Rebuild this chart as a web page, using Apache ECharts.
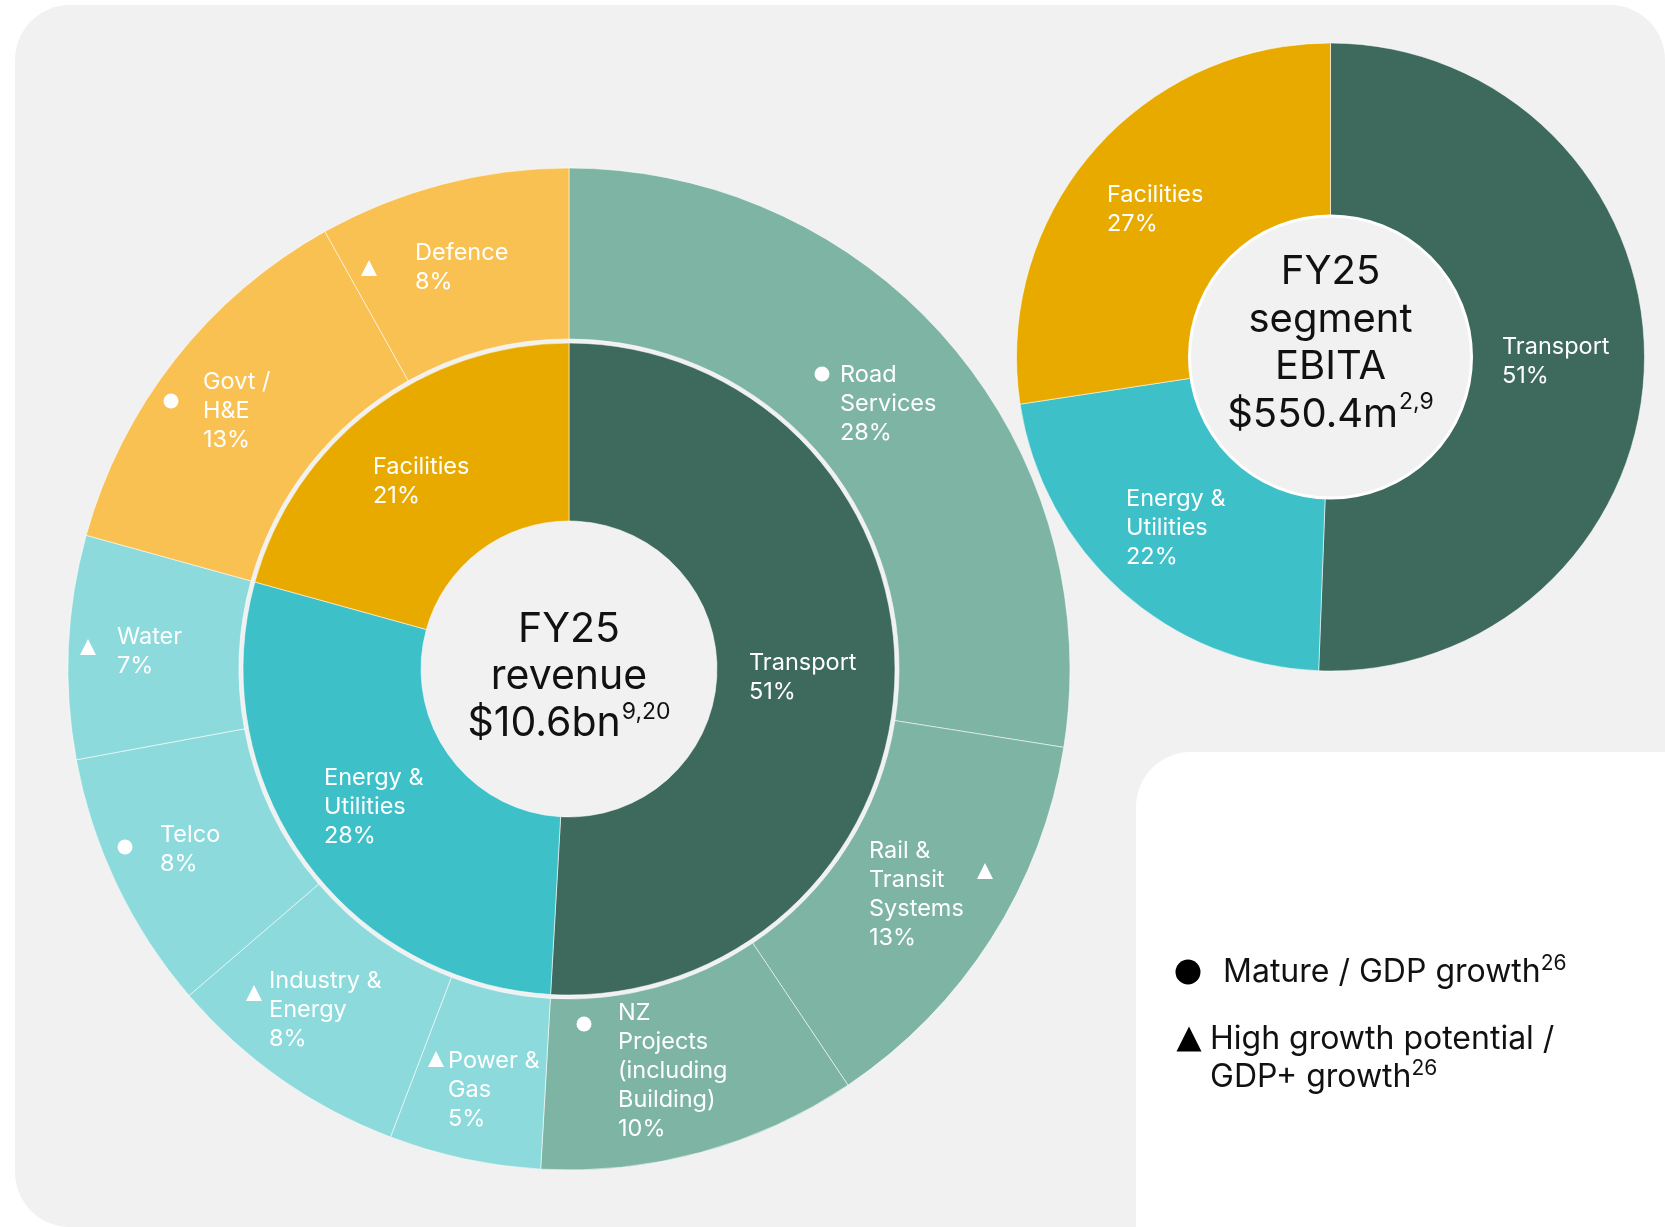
<!DOCTYPE html>
<html>
<head>
<meta charset="utf-8">
<script src="https://cdn.jsdelivr.net/npm/echarts@6/dist/echarts.min.js"></script>
<style>
  html, body { margin: 0; padding: 0; background: #ffffff; }
  #chart { width: 1665px; height: 1227px; }
</style>
</head>
<body>
<div id="chart"></div>
<script>
// ---------- DATA ----------
// Revenue segments (inner ring) - value is the sum of its sub-segments
const segments = ['Transport', 'Energy & Utilities', 'Facilities'];
const segmentLabels = ['Transport', 'Energy &\nUtilities', 'Facilities'];

// Sub-segments (outer ring), shares in % of FY25 revenue (estimated from the arcs;
// printed labels are the rounded values)
const subSegments = [
  ['Road Services', 'Rail & Transit Systems', 'NZ Projects (including Building)'],
  ['Power & Gas', 'Industry & Energy', 'Telco', 'Water'],
  ['Govt / H&E', 'Defence']
];
const subLabels = [
  ['Road\nServices', 'Rail &\nTransit\nSystems', 'NZ\nProjects\n(including\nBuilding)'],
  ['Power &\nGas', 'Industry &\nEnergy', 'Telco', 'Water'],
  ['Govt /\nH&E', 'Defence']
];
const subShare = [
  [27.5, 13.1, 10.3],
  [4.9, 7.9, 8.4, 7.2],
  [12.6, 8.1]
];
// 'mature' = circle, 'high' = triangle
const subGrowth = [
  ['mature', 'high', 'mature'],
  ['high', 'high', 'mature', 'high'],
  ['mature', 'high']
];

// FY25 segment EBITA shares (%)
const ebitaSegments = ['Transport', 'Energy & Utilities', 'Facilities'];
const ebitaLabels = ['Transport', 'Energy &\nUtilities', 'Facilities'];
const ebitaShare = [50.6, 22.0, 27.4];

const revenueTitle = ['FY25', 'revenue', '$10.6bn'];
const revenueNote = '9,20';
const ebitaTitle = ['FY25', 'segment', 'EBITA', '$550.4m'];
const ebitaNote = '2,9';
const legendItems = ['Mature / GDP growth', 'High growth potential /\nGDP+ growth'];
const legendNote = '26';

// ---------- STYLE / LAYOUT ----------
const FONT = 'Inter, "Noto Sans", sans-serif';
const innerColors = ['#3d6a5c', '#3dc0c8', '#e9aa00'];
const outerColors = ['#7db4a3', '#8ddadd', '#f9c152'];
const C_REV = [569, 669];
const C_EB = [1330.5, 357];

// label anchor positions (left x, first-line centre y)
const innerLabelPos = [[749, 663], [324, 778], [373, 467]];
const outerLabelPos = [
  [[840, 375], [869, 851], [618, 1013]],
  [[448, 1061], [269, 981], [160, 835], [117, 637]],
  [[203, 382], [415, 253]]
];
const markerPos = [
  [[822, 374], [985, 871], [584, 1024]],
  [[436, 1059], [254, 993], [125, 847], [88, 647]],
  [[171, 401], [369, 268]]
];
const ebitaLabelPos = [[1502, 347], [1126, 499], [1107, 195]];

// ---------- BUILD ----------
const sum = a => a.reduce((s, v) => s + v, 0);
const pct = v => Math.round(v) + '%';

const sunData = segments.map((s, i) => ({
  name: s,
  itemStyle: { color: innerColors[i] },
  children: subSegments[i].map((c, j) => ({
    name: c,
    value: subShare[i][j],
    itemStyle: { color: outerColors[i] }
  }))
}));

const pieData = ebitaSegments.map((s, i) => ({
  name: s,
  value: ebitaShare[i],
  itemStyle: { color: innerColors[segments.indexOf(s)] }
}));

const graphics = [];
// backgrounds
graphics.push({ type: 'rect', z: -10, shape: { x: 15, y: 5, width: 1650, height: 1222, r: 55 }, style: { fill: '#f1f1f1' } });
graphics.push({ type: 'rect', z: -9, shape: { x: 1136, y: 752, width: 700, height: 600, r: 55 }, style: { fill: '#ffffff' } });

function label(x, y, text) {
  return {
    type: 'text', z: 50, x: x, y: y - 14.5,
    style: { text: text, fill: '#ffffff', font: '400 23.5px ' + FONT, lineHeight: 29, textAlign: 'left', textVerticalAlign: 'top' }
  };
}
function marker(kind, x, y, size, color) {
  if (kind === 'mature') {
    return { type: 'circle', z: 50, shape: { cx: x, cy: y, r: size / 2 }, style: { fill: color } };
  }
  const h = size;
  return { type: 'polygon', z: 50, shape: { points: [[x, y - h / 2], [x + h / 2, y + h / 2], [x - h / 2, y + h / 2]] }, style: { fill: color } };
}

segments.forEach((s, i) => {
  graphics.push(label(innerLabelPos[i][0], innerLabelPos[i][1], segmentLabels[i] + '\n' + pct(sum(subShare[i]))));
  subSegments[i].forEach((c, j) => {
    graphics.push(label(outerLabelPos[i][j][0], outerLabelPos[i][j][1], subLabels[i][j] + '\n' + pct(subShare[i][j])));
    graphics.push(marker(subGrowth[i][j], markerPos[i][j][0], markerPos[i][j][1], subGrowth[i][j] === 'mature' ? 15 : 16, '#ffffff'));
  });
});
ebitaSegments.forEach((s, i) => {
  graphics.push(label(ebitaLabelPos[i][0], ebitaLabelPos[i][1], ebitaLabels[i] + '\n' + pct(ebitaShare[i])));
});

// centre titles
function centreTitle(cx, cy, lines, note, lh, fs) {
  const txt = lines.slice(0, -1).join('\n') + '\n{m|' + lines[lines.length - 1] + '}{s|' + note + '}';
  return {
    type: 'text', z: 60, x: cx, y: cy,
    style: {
      text: txt, fill: '#111111', font: '400 ' + fs + 'px ' + FONT, lineHeight: lh,
      textAlign: 'center', textVerticalAlign: 'middle',
      rich: {
        m: { font: '400 ' + fs + 'px ' + FONT, fill: '#111111', lineHeight: lh },
        s: { font: '400 23px ' + FONT, fill: '#111111', lineHeight: lh, verticalAlign: 'top', padding: [0, 0, 0, 1] }
      }
    }
  };
}
graphics.push(centreTitle(C_REV[0], 677, revenueTitle, revenueNote, 47, 41));
graphics.push(centreTitle(C_EB[0], 343.5, ebitaTitle, ebitaNote, 47.5, 40));

// EBITA hole white ring
graphics.push({ type: 'circle', z: 40, shape: { cx: C_EB[0], cy: C_EB[1], r: 141 }, style: { fill: 'none', stroke: '#ffffff', lineWidth: 3 } });

// legend
graphics.push(marker('mature', 1188, 972, 25, '#000000'));
graphics.push(marker('high', 1189, 1039, 25, '#000000'));
const legendRich = {
  s: { font: '400 21px ' + FONT, fill: '#111111', verticalAlign: 'top', lineHeight: 38 }
};
graphics.push({
  type: 'text', z: 60, x: 1223, y: 972,
  style: { text: legendItems[0] + '{s|' + legendNote + '}', fill: '#111111', font: '400 32px ' + FONT, lineHeight: 38, textAlign: 'left', textVerticalAlign: 'middle', rich: legendRich }
});
const l2 = legendItems[1].split('\n');
graphics.push({
  type: 'text', z: 60, x: 1210, y: 1039 - 19,
  style: { text: l2[0] + '\n' + l2[1] + '{s|' + legendNote + '}', fill: '#111111', font: '400 32px ' + FONT, lineHeight: 38, textAlign: 'left', textVerticalAlign: 'top', rich: legendRich }
});

const chart = echarts.init(document.getElementById('chart'), null, { renderer: 'canvas' });
chart.setOption({
  animation: false,
  backgroundColor: 'transparent',
  graphic: { elements: graphics },
  series: [
    {
      type: 'sunburst',
      z: 2,
      center: C_REV,
      startAngle: 90,
      clockwise: true,
      sort: null,
      nodeClick: false,
      emphasis: { disabled: true },
      data: sunData,
      label: { show: false },
      itemStyle: { borderColor: 'rgba(255,255,255,0.55)', borderWidth: 1 },
      levels: [
        {},
        { r0: 148, r: 326, label: { show: false } },
        { r0: 330, r: 501, label: { show: false } }
      ]
    },
    {
      type: 'pie',
      z: 2,
      center: C_EB,
      radius: [141, 314],
      startAngle: 90,
      clockwise: true,
      label: { show: false },
      labelLine: { show: false },
      emphasis: { disabled: true },
      itemStyle: { borderColor: 'rgba(255,255,255,0.55)', borderWidth: 1 },
      data: pieData
    }
  ]
});
</script>
</body>
</html>
